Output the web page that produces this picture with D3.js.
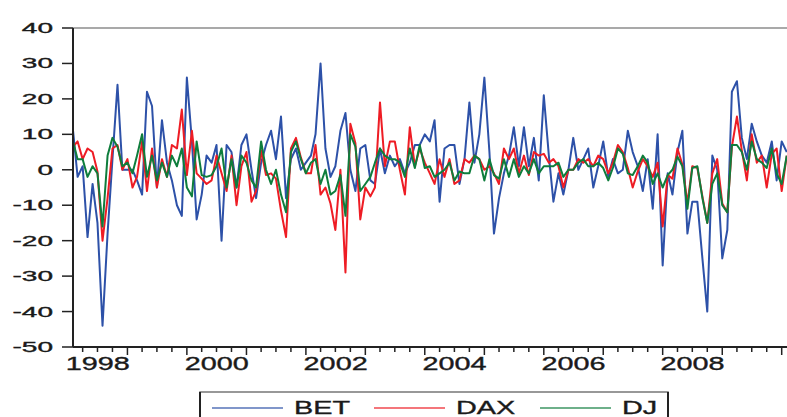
<!DOCTYPE html>
<html>
<head>
<meta charset="utf-8">
<script src="https://cdn.jsdelivr.net/npm/d3@7"></script>
<style>
  body { margin: 0; background: #fff; }
  svg { display: block; font-family: "Liberation Sans", Arial, sans-serif; }
  svg text { stroke: #1a1a1a; stroke-width: 0.35px; }
</style>
</head>
<body>
<script>
// monthly returns, Feb 1998 .. Feb 2010
const firstMonth = new Date(1998, 1, 1)
const lastMonth = new Date(2010, 1, 1)

const bet = [
  11, -2, 1, -19, -4, -15, -44, -18, 3, 24, 0,
  0, 0, -3, -7, 22, 18, -5, 14, 2, -3, -10, -13,
  26, 8, -14, -7, 4, 2, 7, -20, 7, 5, -5, 7,
  10, 0, -8, 2, 7, 11, 3, 15, -8, 3, 6, 0,
  2, 4, 10, 30, 6, -2, 1, 11, 16, 0, -6, 6,
  7, -3, -4, 6, -1, 4, 1, 3, -1, 2, 7, 7,
  10, 8, 14, -9, 6, 7, 7, -4, 3, 19, 2, 10,
  26, 5, -18, -8, -1, 4, 12, 1, 12, 1, 9, -3,
  21, 4, -9, -1, -7, 0, 9, 0, 3, 6, -5, 1,
  8, -2, 3, -1, 0, 11, 5, 1, -6, 3, -11, 10,
  -27, -1, -7, 5, 11, -18, -9, -9, -25, -40, 4, 0,
  -25, -17, 22, 25, 9, 3, 13, 8, 4, 2, 8, -3,
  8, 5
]
const dax = [
  6.5, 8, 3, 6, 5, -0.5, -20, -8, 6, 7, 0,
  3, -5, -2, 8, -6, 6, -5, 3, -2, 7, 6, 17,
  -1.5, 11, -1, -2.5, -4, -3, 4, -1, -6, 4, -10, 1,
  5, -9, -6, 5.5, -1.5, -1, -2.5, -11.5, -19, 6, 9, 3.5,
  -1, -1, 7, -7, -5, -9.5, -17, 0, -29, 13, 7.5, -14,
  -5, -7.5, -5, 19, 1, 8, 8, 0, -7, 12, 1, 6,
  2, -1, -4, 3, -2, 3, -4, -3, 3, 2, 4, 3,
  0, 1, -1, -4, 6, 3, 6, -1, 4, -1.5, 5, 4,
  4.5, 2, 3, 1, -5, 0, 0, 3, 2, 3, 1, 4,
  3, -1, 2, 7, 5, 0.5, -5, -0.5, 3, 1, -2, 2,
  -16, -1.5, -2.5, 6, 1.5, -9.5, 1, 0.5, -7.5, -15, -1, 3,
  -9.5, -12, 6.5, 15, 5.5, -3, 10, 2, 4, -5, 4.5, 6,
  -6, 4
]
const dj = [
  8, 3, 3, -2, 1, -1, -16, 4, 9, 6.5, 1,
  2, -1, 4, 10, -2, 4, -3, 2, -2, 4, 1, 6,
  -5, -7.5, 8, -1.5, -2, -1.5, 1, 6, -5, 3, -5, 4,
  2, -3, -5, 8, 0, -4, 0, -7, -12, 5, 8, 3,
  -1, 2, 3, -4, 0, -7, -6, -1.5, -13, 10, 6.5, -6,
  -4, -2, 2, 6, 4, 3, 3, 2, -2, 6, 0.5, 7,
  0.5, 1, -2, -1, 0, 2, -3, -0.5, -1, -1, 4, 3,
  -3, 3, -1.5, -2.5, 3, -2, 3, -2, 1, -1, 3, -1,
  1, 1, 1, 2, -2, 0, 0, 2, 3, 1, 1, 2,
  0.5, -3, 0.5, 6, 4.5, -1, -1.5, 1, 4, 2, -4, -1,
  -5, -1.5, 0, 3.7, 1, -11, 0.5, 1, -8, -15, -4, -1,
  -10, -12, 7, 7, 5, 0, 8, 3, 2, 0.5, 6, -1,
  -4, 4
]

const seriesNames = ["BET", "DAX", "DJ"]
const seriesColors = ["#2d51a8", "#ee1c24", "#0e7d3c"]
const yTicks = [40, 30, 20, 10, 0, -10, -20, -30, -40, -50]
const yearLabels = [1998, 2000, 2002, 2004, 2006, 2008]

const months = d3.timeMonth.range(firstMonth, d3.timeMonth.offset(lastMonth, 1))
const allSeries = [bet, dax, dj]

let W = 787, H = 417
let plotLeft = 73, plotTop = 28, plotBottom = 347

let svg = d3.select("body").append("svg")
  .attr("width", W)
  .attr("height", H)

let x = d3.scaleTime()
  .domain([new Date(1998, 0, 1), new Date(2010, 0, 1)])
  .range([68, 781.7])

let y = d3.scaleLinear()
  .domain([-50, 40])
  .range([plotBottom, plotTop])

svg.append("defs").append("clipPath").attr("id", "plot")
  .append("rect")
  .attr("x", plotLeft).attr("y", plotTop)
  .attr("width", W - plotLeft + 20).attr("height", plotBottom - plotTop)

// top frame line
svg.append("line")
  .attr("x1", plotLeft).attr("x2", W + 5)
  .attr("y1", plotTop).attr("y2", plotTop)
  .attr("stroke", "#555").attr("stroke-width", 1.2)

// series
let line = d3.line()
  .x((d, i) => x(months[i]))
  .y(d => y(d))

let g = svg.append("g").attr("clip-path", "url(#plot)")
allSeries.forEach((s, k) => {
  g.append("path")
    .datum(s)
    .attr("d", line)
    .attr("fill", "none")
    .attr("stroke", seriesColors[k])
    .attr("stroke-width", 2)
    .attr("stroke-linejoin", "round")
})

// y axis
let yAxis = svg.append("g")
yAxis.append("line")
  .attr("x1", plotLeft).attr("x2", plotLeft)
  .attr("y1", plotTop).attr("y2", plotBottom)
  .attr("stroke", "#222").attr("stroke-width", 2)
yAxis.selectAll(".yt")
  .data(yTicks)
  .enter()
  .append("line")
  .attr("x1", plotLeft - 11).attr("x2", plotLeft)
  .attr("y1", d => y(d)).attr("y2", d => y(d))
  .attr("stroke", "#222").attr("stroke-width", 1.5)
yAxis.selectAll(".yl")
  .data(yTicks)
  .enter()
  .append("text")
  .attr("transform", d => "translate(53," + (y(d) + 5) + ") scale(2,1)")
  .attr("text-anchor", "end")
  .attr("font-size", 14)
  .attr("fill", "#1a1a1a")
  .text(d => d)

// x axis
let xAxis = svg.append("g")
xAxis.append("line")
  .attr("x1", plotLeft).attr("x2", W + 5)
  .attr("y1", plotBottom).attr("y2", plotBottom)
  .attr("stroke", "#222").attr("stroke-width", 2)

let quarters = d3.timeMonth.every(3).range(new Date(1998, 0, 1), new Date(2010, 1, 1))
xAxis.selectAll(".xt")
  .data(quarters.filter(d => x(d) > plotLeft + 2))
  .enter()
  .append("line")
  .attr("x1", d => x(d)).attr("x2", d => x(d))
  .attr("y1", plotBottom)
  .attr("y2", d => d.getMonth() === 0 ? plotBottom + 8 : plotBottom + 5)
  .attr("stroke", "#222").attr("stroke-width", 1.5)

xAxis.selectAll(".xl")
  .data(yearLabels)
  .enter()
  .append("text")
  .attr("transform", d => {
    let cx = (x(new Date(d, 0, 1)) + x(new Date(d + 1, 0, 1))) / 2
    return "translate(" + cx + ",370) scale(1.6,1)"
  })
  .attr("text-anchor", "middle")
  .attr("font-size", 18)
  .attr("fill", "#1a1a1a")
  .text(d => d)

// legend
let legend = svg.append("g")
legend.append("rect")
  .attr("x", 200).attr("y", 392)
  .attr("width", 468).attr("height", 40)
  .attr("fill", "#fff")
  .attr("stroke", "#777").attr("stroke-width", 1.5)
legend.append("line")
  .attr("x1", 200).attr("x2", 200).attr("y1", 392).attr("y2", 420)
  .attr("stroke", "#222").attr("stroke-width", 2)
legend.append("line")
  .attr("x1", 668).attr("x2", 668).attr("y1", 392).attr("y2", 420)
  .attr("stroke", "#222").attr("stroke-width", 2)

let legendX = [212, 374, 540]
seriesNames.forEach((name, k) => {
  legend.append("line")
    .attr("x1", legendX[k]).attr("x2", legendX[k] + 71)
    .attr("y1", 408).attr("y2", 408)
    .attr("stroke", seriesColors[k])
    .attr("stroke-width", 1.3)
    .attr("opacity", 0.8)
  legend.append("text")
    .attr("transform", "translate(" + (legendX[k] + 82) + ",414) scale(1.6,1)")
    .attr("font-size", 18)
    .attr("fill", "#1a1a1a")
    .text(name)
})
</script>
</body>
</html>
